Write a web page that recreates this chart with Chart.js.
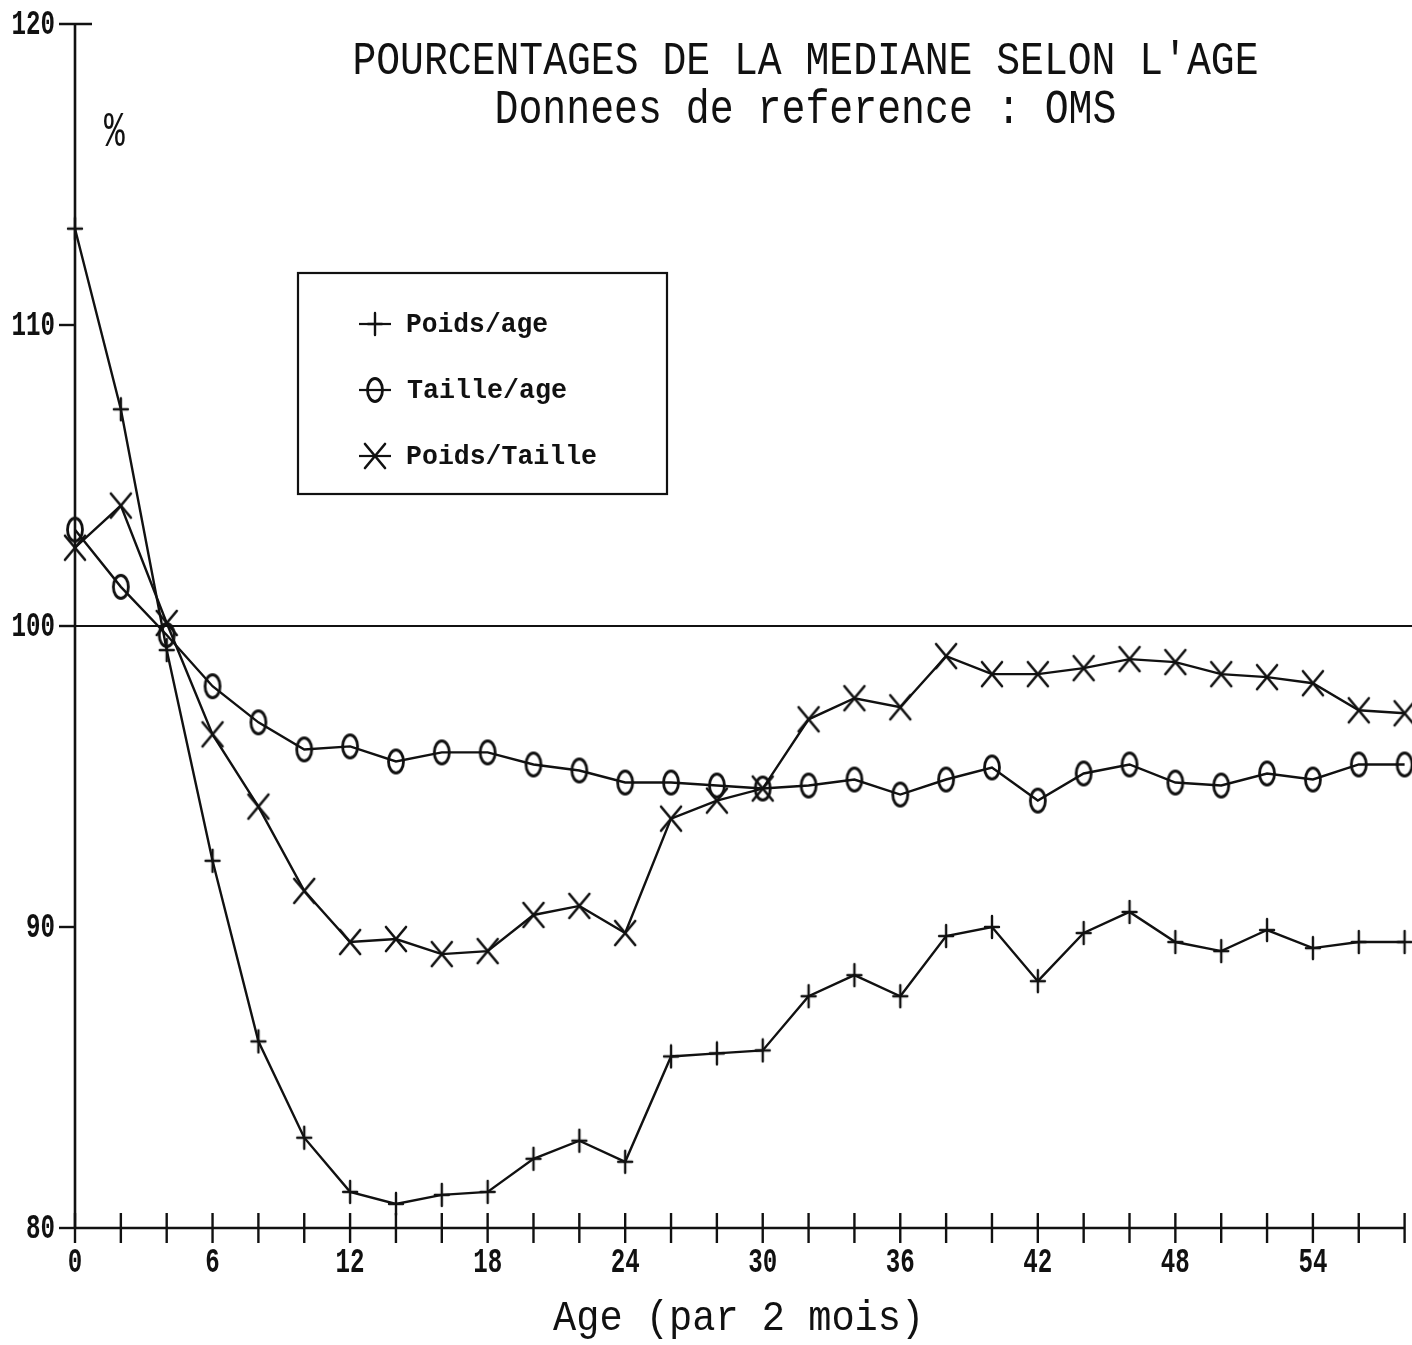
<!DOCTYPE html>
<html>
<head>
<meta charset="utf-8">
<script src="https://cdn.jsdelivr.net/npm/chart.js@4.4.1/dist/chart.umd.min.js"></script>
<style>
  html, body { margin: 0; padding: 0; background: #fff; }
  #c { display: block; }
</style>
</head>
<body>
<canvas id="c" width="1412" height="1345"></canvas>
<script>
// Age in 2-month steps
const ages = [0, 2, 4, 6, 8, 10, 12, 14, 16, 18, 20, 22, 24, 26, 28, 30, 32, 34, 36, 38, 40, 42, 44, 46, 48, 50, 52, 54, 56, 58];

// Percent of the reference median (OMS)
const poidsAge = [113.2, 107.2, 99.2, 92.2, 86.2, 83.0, 81.2, 80.8, 81.1, 81.2, 82.3, 82.9, 82.2, 85.7, 85.8, 85.9, 87.7, 88.4, 87.7, 89.7, 90.0, 88.2, 89.8, 90.5, 89.5, 89.2, 89.9, 89.3, 89.5, 89.5];
const tailleAge = [103.2, 101.3, 99.7, 98.0, 96.8, 95.9, 96.0, 95.5, 95.8, 95.8, 95.4, 95.2, 94.8, 94.8, 94.7, 94.6, 94.7, 94.9, 94.4, 94.9, 95.3, 94.2, 95.1, 95.4, 94.8, 94.7, 95.1, 94.9, 95.4, 95.4];
const poidsTaille = [102.6, 104.0, 100.1, 96.4, 94.0, 91.2, 89.5, 89.6, 89.1, 89.2, 90.4, 90.7, 89.8, 93.6, 94.2, 94.6, 96.9, 97.6, 97.3, 99.0, 98.4, 98.4, 98.6, 98.9, 98.8, 98.4, 98.3, 98.1, 97.2, 97.1];

const seriesNames = ['Poids/age', 'Taille/age', 'Poids/Taille'];
const titleLines = ['POURCENTAGES DE LA MEDIANE SELON L\'AGE', 'Donnees de reference : OMS'];
const xTitle = 'Age (par 2 mois)';
const yUnit = '%';
const referenceLevel = 100;

const INK = '#111';
const FONT = '"Liberation Mono", "DejaVu Sans Mono", monospace';

// ---- marker glyphs drawn on small canvases ----
function makeMarker(w, h, draw) {
  const c = document.createElement('canvas');
  c.width = w; c.height = h;
  const g = c.getContext('2d');
  g.strokeStyle = INK;
  g.lineCap = 'round';
  g.translate(w / 2, h / 2);
  draw(g);
  return c;
}
const plusMarker = makeMarker(20, 26, g => {
  g.lineWidth = 2.4;
  g.beginPath();
  g.moveTo(-7, 0); g.lineTo(7, 0);
  g.moveTo(0, -11); g.lineTo(0, 11);
  g.stroke();
});
const ovalMarker = makeMarker(22, 30, g => {
  g.lineWidth = 2.8;
  g.beginPath();
  g.ellipse(0, 0, 7.5, 11.5, 0, 0, Math.PI * 2);
  g.stroke();
});
const crossMarker = makeMarker(26, 30, g => {
  g.lineWidth = 2.6;
  g.beginPath();
  g.moveTo(-10, -12); g.lineTo(10, 12);
  g.moveTo(10, -12); g.lineTo(-10, 12);
  g.stroke();
});
const markers = [plusMarker, ovalMarker, crossMarker];

// ---- text fitted to an ink box (condensed plotter lettering) ----
function capRatio(ctx, weight) {
  ctx.font = `${weight} 100px ${FONT}`;
  return ctx.measureText('H').actualBoundingBoxAscent / 100;
}
function fitText(ctx, s, x0, x1, baseline, capH, weight = 'normal') {
  ctx.save();
  const size = capH / capRatio(ctx, weight);
  ctx.font = `${weight} ${size}px ${FONT}`;
  ctx.textAlign = 'left';
  ctx.textBaseline = 'alphabetic';
  const m = ctx.measureText(s);
  const ink = m.actualBoundingBoxLeft + m.actualBoundingBoxRight;
  const sx = (x1 - x0) / ink;
  ctx.translate(x0 + m.actualBoundingBoxLeft * sx, baseline);
  ctx.scale(sx, 1);
  ctx.fillStyle = INK;
  ctx.fillText(s, 0, 0);
  ctx.restore();
}
// tick numerals: fixed digit height and advance
function tickText(ctx, s, x, baseline, align) {
  ctx.save();
  const size = 23 / capRatio(ctx, 'bold');
  ctx.font = `bold ${size}px ${FONT}`;
  const adv = ctx.measureText('0').width;
  const sx = 14.5 / adv;
  const w = ctx.measureText(s).width * sx;
  let left = x;
  if (align === 'center') left = x - w / 2;
  if (align === 'right') left = x - w;
  ctx.translate(left, baseline);
  ctx.scale(sx, 1);
  ctx.textAlign = 'left';
  ctx.textBaseline = 'alphabetic';
  ctx.fillStyle = INK;
  ctx.fillText(s, 0, 0);
  ctx.restore();
}

// ---- axes, reference line, ticks, titles and legend ----
const decorations = {
  id: 'decorations',
  beforeDatasetsDraw(chart) {
    const ctx = chart.ctx;
    const xs = chart.scales.x, ys = chart.scales.y;
    const area = chart.chartArea;
    ctx.save();
    ctx.strokeStyle = INK;
    ctx.lineCap = 'butt';

    // 100 % reference line
    const y100 = ys.getPixelForValue(referenceLevel);
    ctx.lineWidth = 2.2;
    ctx.beginPath();
    ctx.moveTo(area.left - 16, y100);
    ctx.lineTo(chart.width, y100);
    ctx.stroke();

    // axis lines
    ctx.lineWidth = 2.6;
    ctx.beginPath();
    ctx.moveTo(area.left, area.top);
    ctx.lineTo(area.left, area.bottom);
    ctx.moveTo(area.left, area.bottom);
    ctx.lineTo(area.right, area.bottom);
    ctx.stroke();

    // x ticks crossing the axis
    ctx.lineWidth = 2.4;
    xs.ticks.forEach(t => {
      const px = xs.getPixelForValue(t.value);
      ctx.beginPath();
      ctx.moveTo(px, area.bottom - 15);
      ctx.lineTo(px, area.bottom + 15);
      ctx.stroke();
    });
    // y ticks
    ys.ticks.forEach(t => {
      const py = ys.getPixelForValue(t.value);
      ctx.beginPath();
      ctx.moveTo(area.left - 16, py);
      ctx.lineTo(area.left + (t.value === ys.max ? 17 : 0), py);
      ctx.stroke();
    });
    ctx.restore();

    // tick labels
    xs.ticks.forEach(t => {
      if (t.value % 6 !== 0) return;
      tickText(ctx, String(t.value), xs.getPixelForValue(t.value), area.bottom + 44, 'center');
    });
    ys.ticks.forEach(t => {
      tickText(ctx, String(t.value), area.left - 20, ys.getPixelForValue(t.value) + 10, 'right');
    });
  },
  afterDraw(chart) {
    const ctx = chart.ctx;
    // titles
    fitText(ctx, titleLines[0], 355, 1257, 74, 31);
    fitText(ctx, titleLines[1], 497, 1115, 123, 32);
    fitText(ctx, yUnit, 104, 125, 146, 33);
    fitText(ctx, xTitle, 553, 918, 1330, 29);

    // legend box
    ctx.save();
    ctx.strokeStyle = INK;
    ctx.lineWidth = 2.2;
    ctx.strokeRect(298, 273, 369, 221);
    const rows = [
      { base: 332, right: 547 },
      { base: 398, right: 566 },
      { base: 464, right: 596 }
    ];
    rows.forEach((r, i) => {
      const cy = r.base - 8;
      ctx.lineWidth = 2.2;
      ctx.beginPath();
      ctx.moveTo(359, cy);
      ctx.lineTo(391, cy);
      ctx.stroke();
      const m = markers[i];
      ctx.drawImage(m, 375 - m.width / 2, cy - m.height / 2);
      fitText(ctx, seriesNames[i], 407, r.right, r.base, 19, 'bold');
    });
    ctx.restore();
  }
};

const values = [poidsAge, tailleAge, poidsTaille];
const datasets = values.map((vals, i) => ({
  label: seriesNames[i],
  data: ages.map((a, k) => ({ x: a, y: vals[k] })),
  borderColor: INK,
  borderWidth: 2.4,
  pointStyle: markers[i],
  pointRadius: 5,
  tension: 0,
  fill: false,
  clip: false
}));

new Chart(document.getElementById('c'), {
  type: 'line',
  data: { datasets },
  options: {
    responsive: false,
    devicePixelRatio: 1,
    animation: false,
    events: [],
    layout: { padding: { top: 24, right: 7, left: 0, bottom: 0 } },
    plugins: {
      legend: { display: false },
      title: { display: false },
      tooltip: { enabled: false }
    },
    scales: {
      x: {
        type: 'linear',
        min: 0,
        max: 58,
        ticks: { stepSize: 2, display: false },
        grid: { display: false },
        border: { display: false },
        afterFit(s) { s.height = 117; }
      },
      y: {
        type: 'linear',
        min: 80,
        max: 120,
        ticks: { stepSize: 10, display: false },
        grid: { display: false },
        border: { display: false },
        afterFit(s) { s.width = 75; }
      }
    }
  },
  plugins: [decorations]
});
</script>
</body>
</html>
